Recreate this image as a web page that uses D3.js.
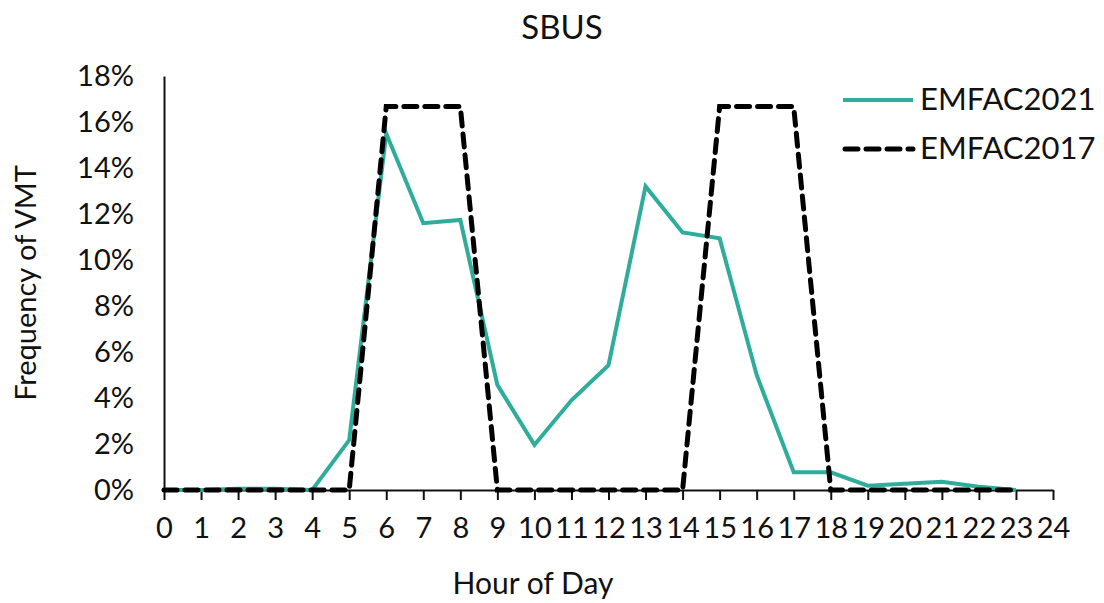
<!DOCTYPE html>
<html><head><meta charset="utf-8">
<script src="https://cdn.jsdelivr.net/npm/d3@7"></script>
<style>body{margin:0;background:#fff}svg{display:block}text{font-family:Lato,"Noto Sans",sans-serif;fill:#111}</style>
</head><body><svg id="c" width="1104" height="603"></svg>
<script>
const hours = d3.range(0,24);
const xTicks = d3.range(0,25);
const yTicks = [0,0.02,0.04,0.06,0.08,0.10,0.12,0.14,0.16,0.18];
const emfac2021 = [0,0,0.0005,0.0005,0,0.0217,0.155,0.116,0.1174,0.0457,0.0196,0.039,0.0543,0.132,0.112,0.1094,0.050,0.0077,0.0077,0.0019,0.0027,0.0036,0.0014,0];
const emfac2017 = [0,0,0,0,0,0,0.1667,0.1667,0.1667,0,0,0,0,0,0,0.1667,0.1667,0.1667,0,0,0,0,0,0];
const seriesNames = ["EMFAC2021","EMFAC2017"];

const svg = d3.select("#c");
const m = {l:164, r:1053, t:76, b:490};
const x = d3.scaleLinear().domain([0,24]).range([m.l,m.r]);
const y = d3.scaleLinear().domain([0,0.18]).range([m.b,m.t]);

// x axis
const xa = svg.append("g").attr("transform",`translate(0,${m.b})`)
  .call(d3.axisBottom(x).tickValues(xTicks).tickFormat(d3.format("d")).tickSizeOuter(0).tickSizeInner(10).tickPadding(17));
xa.select(".domain").attr("stroke","#111").attr("stroke-width",2);
xa.selectAll(".tick line").attr("stroke","#111").attr("stroke-width",2);
xa.selectAll("text").style("font-size","29px").attr("fill","#111");

// y axis
const ya = svg.append("g").attr("transform",`translate(${m.l},0)`)
  .call(d3.axisLeft(y).tickValues(yTicks).tickFormat(d3.format(".0%")).tickSize(0).tickPadding(30));
ya.select(".domain").attr("stroke","#111").attr("stroke-width",2);
ya.selectAll("text").style("font-size","29px").attr("fill","#111");

const line = d3.line().x((d,i)=>x(hours[i])).y(d=>y(d));
svg.append("path").datum(emfac2021).attr("d",line).attr("fill","none")
  .attr("stroke","#2EAD9A").attr("stroke-width",4).attr("stroke-linejoin","miter");
svg.append("path").datum(emfac2017).attr("d",line).attr("fill","none")
  .attr("stroke","#000").attr("stroke-width",5).attr("stroke-dasharray","13,8").attr("stroke-linecap","round");

// title
svg.append("text").attr("x",562).attr("y",39).attr("text-anchor","middle").style("font-size","33px").text("SBUS");
svg.append("text").attr("x",533).attr("y",594).attr("text-anchor","middle").style("font-size","30px").text("Hour of Day");
svg.append("text").attr("transform","translate(36,283) rotate(-90)").attr("text-anchor","middle").style("font-size","29px").text("Frequency of VMT");

// legend
const lg = svg.append("g");
lg.append("line").attr("x1",843).attr("x2",913).attr("y1",100).attr("y2",100).attr("stroke","#2EAD9A").attr("stroke-width",4);
lg.append("line").attr("x1",845).attr("x2",913).attr("y1",149).attr("y2",149).attr("stroke","#000").attr("stroke-width",5).attr("stroke-dasharray","13,8").attr("stroke-linecap","round");
lg.append("text").attr("x",920).attr("y",110).style("font-size","31px").text(seriesNames[0]);
lg.append("text").attr("x",920).attr("y",159).style("font-size","31px").text(seriesNames[1]);
</script></body></html>
